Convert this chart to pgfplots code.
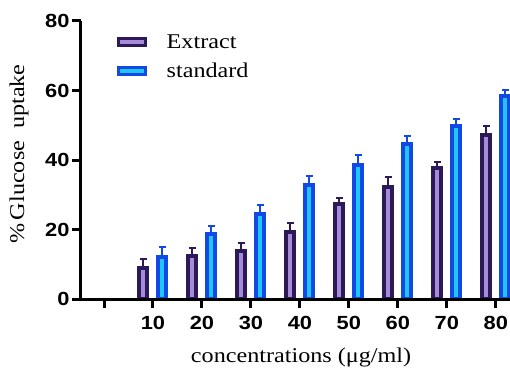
\documentclass[border=0pt]{standalone}
\usepackage{fontspec}
\setmainfont{Liberation Serif}[FakeStretch=1.15]
\newfontfamily\tickfont{Liberation Sans}[FakeStretch=1.15]
\usepackage{pgfplots}
\pgfplotsset{compat=1.18}
\usetikzlibrary{calc}
\definecolor{exB}{HTML}{2B1A57}
\definecolor{exF}{HTML}{A88BD8}
\definecolor{stB}{HTML}{1249E6}
\definecolor{stF}{HTML}{1FC6F8}
\begin{document}
\begin{tikzpicture}
\begin{axis}[
 scale only axis, width=429bp, height=278bp,
 xmin=-0.47, xmax=8.29, ymin=0, ymax=80,
 axis lines=left,
 axis line style={-, line width=3bp, black},
 ytick={0,20,40,60,80},
 xtick={0,...,8},
 xticklabels={,10,20,30,40,50,60,70,80},
 tick align=outside,
 major tick length=9bp,
 tick style={line width=3bp, black},
 ticklabel style={font=\tickfont\bfseries\fontsize{19bp}{21bp}\selectfont},
 xticklabel style={yshift=-5bp},
 yticklabel style={xshift=1bp},
 /pgf/number format/assume math mode=true,
 ylabel={\%\,Glucose\ \ uptake},
 xlabel={concentrations (μg/ml)},
 label style={font=\fontsize{21bp}{24bp}\selectfont},
 ylabel style={at={(axis description cs:-0.1445,0.5216)}, anchor=center},
 xlabel style={at={(axis description cs:0.513,-0.2120)}, anchor=center},
 ybar, bar width=8bp,
 axis on top=true,
 legend style={draw=none, fill=none, at={(axis description cs:0.084,0.96)}, anchor=north west, inner sep=0pt, row sep=9bp, font=\fontsize{21bp}{24bp}\selectfont},
 legend cell align=left,
]
\addplot[draw=exB, fill=exF, line width=4bp, bar shift=-9.5bp,
  legend image code/.code={\draw[draw=exB, fill=exF, line width=3bp] (0bp,-3.5bp) rectangle (27bp,3.5bp); \path (44bp,0bp);},
  error bars/.cd, y dir=plus, y explicit,
  error bar style={line width=2bp, color=exB},
  error mark options={rotate=90, line width=2bp, mark size=3.5bp, color=exB}]
coordinates {(1,8.8) +- (0,2.6) (2,12.4) +- (0,2.4) (3,13.9) +- (0,2.1) (4,19.4) +- (0,2.4)
 (5,27.2) +- (0,2.0) (6,32.3) +- (0,2.7) (7,37.8) +- (0,1.7) (8,47.2) +- (0,2.7)};
\addlegendentry{Extract}
\addplot[draw=stB, fill=stF, line width=4bp, bar shift=9.5bp,
  legend image code/.code={\draw[draw=stB, fill=stF, line width=3bp] (0bp,-3.5bp) rectangle (27bp,3.5bp); \path (44bp,0bp);},
  error bars/.cd, y dir=plus, y explicit,
  error bar style={line width=2bp, color=stB},
  error mark options={rotate=90, line width=2bp, mark size=3.5bp, color=stB}]
coordinates {(1,12.2) +- (0,2.7) (2,18.6) +- (0,2.4) (3,24.4) +- (0,2.6) (4,32.8) +- (0,2.7)
 (5,38.7) +- (0,2.7) (6,44.7) +- (0,2.2) (7,49.8) +- (0,2.1) (8,58.4) +- (0,1.7)};
\addlegendentry{standard}
\end{axis}
\pgfresetboundingbox
\path[use as bounding box] ($(current axis.south west)+(-81bp,-72bp)$) rectangle ($(current axis.north east)+(0bp,21bp)$);
\end{tikzpicture}
\end{document}
